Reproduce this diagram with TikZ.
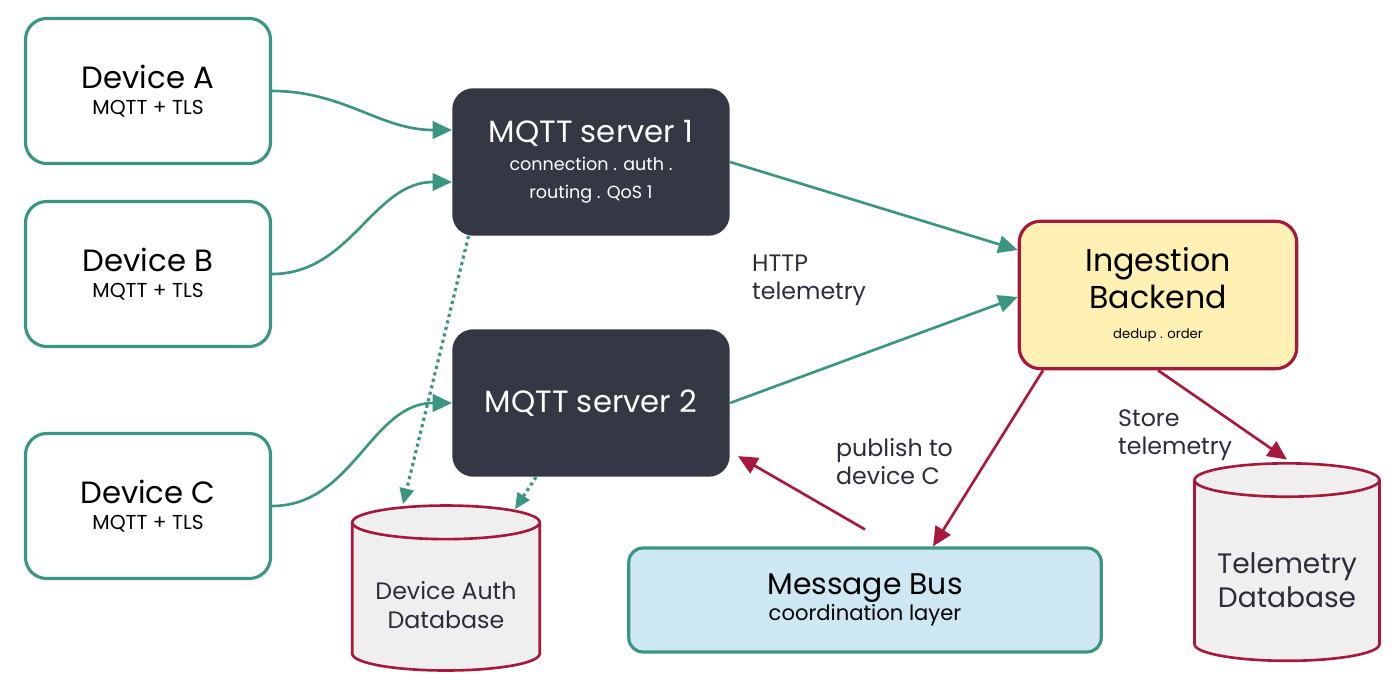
\documentclass[tikz,border=0pt]{standalone}
\usepackage{fontspec}
\setmainfont{Poppins}
\usetikzlibrary{shapes.geometric,arrows.meta,positioning}
\definecolor{teal}{HTML}{3A9680}
\definecolor{wine}{HTML}{A8183C}
\definecolor{slate}{HTML}{343744}
\definecolor{sand}{HTML}{FFF0B3}
\definecolor{sky}{HTML}{CDE8F2}
\definecolor{stone}{HTML}{EFEFEF}
\definecolor{ink}{HTML}{2B2D3A}
\tikzset{
  device/.style={draw=teal, line width=1.8pt, fill=white, rounded corners=12pt,
    minimum width=4.9cm, minimum height=2.9cm, align=center, font=\fontsize{17.5}{19}\selectfont},
  server/.style={fill=slate, text=white, rounded corners=12pt,
    minimum width=5.55cm, minimum height=2.95cm, align=center, font=\fontsize{17.5}{19}\selectfont},
  db/.style={cylinder, shape border rotate=90, aspect=0.22, draw=wine, line width=1.5pt,
    fill=stone, align=center, text=ink},
  green arrow/.style={draw=teal, line width=1.5pt, -{Triangle[length=11pt,width=10pt]}},
  red arrow/.style={draw=wine, line width=1.5pt, -{Triangle[length=11pt,width=10pt]}},
  dotted link/.style={draw=teal, line width=1.8pt, dotted, -{Triangle[length=9pt,width=8pt]}},
  label/.style={anchor=west, align=left, text=ink, font=\fontsize{13.5}{16}\selectfont}
}
\begin{document}
\begin{tikzpicture}[x=0.02cm, y=-0.02cm]
    \useasboundingbox (0,0) rectangle (1400,692);

    % Devices
    \node[device] (devA) at (148,91) {Device A\\[-4pt]{\fontsize{11.5}{13}\selectfont MQTT + TLS}};
    \node[device] (devB) at (148,274) {Device B\\[-4pt]{\fontsize{11.5}{13}\selectfont MQTT + TLS}};
    \node[device] (devC) at (148,506) {Device C\\[-4pt]{\fontsize{11.5}{13}\selectfont MQTT + TLS}};

    % MQTT servers
    \node[server] (mqtt1) at (591,162) {MQTT server 1\\[-3pt]{\fontsize{10}{12}\selectfont connection . auth .}\\[-3pt]{\fontsize{10}{12}\selectfont routing . QoS 1}};
    \node[server] (mqtt2) at (591,403) {MQTT server 2};

    % Backend and bus
    \node[draw=wine, line width=1.8pt, fill=sand, rounded corners=12pt, minimum width=5.55cm,
      minimum height=2.95cm, align=center, font=\fontsize{18}{21}\selectfont]
      (ingest) at (1158,295) {Ingestion\\Backend\\[-4pt]{\fontsize{7.5}{9}\selectfont dedup . order}};
    \node[draw=teal, line width=1.8pt, fill=sky, rounded corners=8pt, minimum width=9.45cm,
      minimum height=2.08cm, align=center, font=\fontsize{17}{19}\selectfont]
      (bus) at (865,600) {Message Bus\\[-4pt]{\fontsize{12}{13}\selectfont coordination layer}};

    % Databases
    \node[db, minimum width=3.75cm, minimum height=3.3cm, font=\fontsize{13.5}{16}\selectfont]
      (authdb) at (446,600) {\\Device Auth\\Database};
    \node[db, minimum width=3.7cm, minimum height=3.95cm, font=\fontsize{16}{19}\selectfont]
      (teledb) at (1287,574) {\\Telemetry\\Database};

    % Device connections
    \draw[green arrow] (devA.east) to[out=0, in=180] ([yshift=0.64cm]mqtt1.west);
    \draw[green arrow] (devB.east) to[out=0, in=180] ([yshift=-0.4cm]mqtt1.west);
    \draw[green arrow] (devC.east) to[out=0, in=180] (mqtt2.west);

    % Telemetry to backend
    \draw[green arrow] (mqtt1.east) -- ([yshift=0.9cm]ingest.west);
    \draw[green arrow] (mqtt2.east) -- ([yshift=-0.04cm]ingest.west);
    \node[label] (http) at (746,280) {HTTP\\telemetry};

    % Auth lookups
    \draw[dotted link] ([xshift=-2.45cm]mqtt1.south) -- ([xshift=-0.86cm]authdb.north);
    \draw[dotted link] ([xshift=-1.1cm]mqtt2.south) -- ([xshift=1.38cm,yshift=-0.1cm]authdb.north);

    % Backend outputs
    \draw[red arrow] ([xshift=-2.3cm]ingest.south) -- ([xshift=1.36cm]bus.north);
    \draw[red arrow] (ingest.south) -- ([yshift=0.05cm]teledb.north);
    \node[label] (store) at (1112,435) {Store\\telemetry};

    % Publish back
    \draw[red arrow] ([yshift=0.34cm]bus.north) -- ([xshift=0.16cm,yshift=0.42cm]mqtt2.south east);
    \node[label] (publish) at (830,462) {publish to\\device C};
\end{tikzpicture}
\end{document}
